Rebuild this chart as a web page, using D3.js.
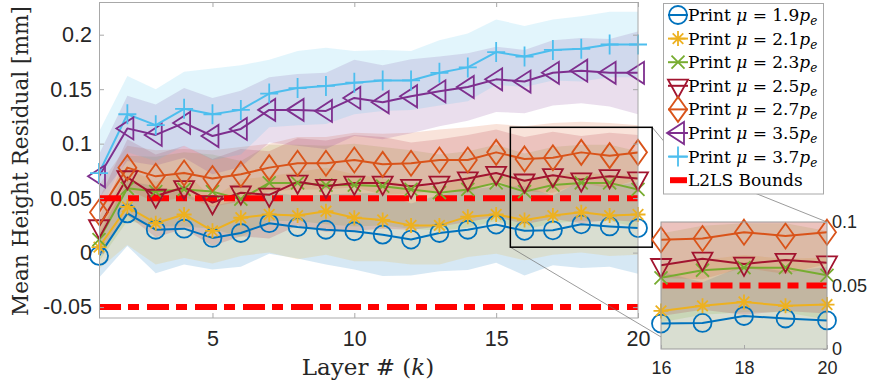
<!DOCTYPE html>
<html>
<head>
<meta charset="utf-8">
<script src="https://cdn.jsdelivr.net/npm/d3@7"></script>
<style>
  body { margin: 0; background: #fff; }
  svg { display: block; }
</style>
</head>
<body>
<script>
// ---- data -------------------------------------------------------------
const layers = [1, 2, 3, 4, 5, 6, 7, 8, 9, 10, 11, 12, 13, 14, 15, 16, 17, 18, 19, 20];

// mean height residual per layer [mm]
const mu19 = [-0.003, 0.036, 0.021, 0.022, 0.0135, 0.018, 0.027, 0.0235, 0.021, 0.0196, 0.0165, 0.012, 0.018, 0.021, 0.0257, 0.020, 0.0205, 0.026, 0.024, 0.0225];
const mu21 = [0.005, 0.042, 0.027, 0.035, 0.020, 0.032, 0.035, 0.034, 0.038, 0.032, 0.030, 0.025, 0.025, 0.033, 0.035, 0.030, 0.034, 0.037, 0.034, 0.035];
const mu23 = [0.012, 0.059, 0.056, 0.058, 0.056, 0.049, 0.064, 0.064, 0.062, 0.062, 0.061, 0.058, 0.055, 0.058, 0.064, 0.056, 0.062, 0.064, 0.064, 0.058];
const mu25 = [0.024, 0.069, 0.052, 0.060, 0.046, 0.055, 0.053, 0.065, 0.061, 0.064, 0.064, 0.061, 0.064, 0.068, 0.073, 0.066, 0.071, 0.067, 0.070, 0.068];
const mu27 = [0.037, 0.078, 0.070, 0.073, 0.068, 0.072, 0.078, 0.082, 0.082, 0.085, 0.081, 0.082, 0.085, 0.085, 0.092, 0.086, 0.087, 0.092, 0.089, 0.092];
const mu35 = [0.070, 0.114, 0.108, 0.119, 0.107, 0.1135, 0.131, 0.131, 0.130, 0.142, 0.138, 0.1435, 0.148, 0.152, 0.159, 0.157, 0.165, 0.167, 0.165, 0.165];
const mu37 = [0.073, 0.127, 0.117, 0.132, 0.127, 0.131, 0.146, 0.151, 0.153, 0.156, 0.158, 0.158, 0.165, 0.170, 0.184, 0.180, 0.186, 0.187, 0.191, 0.191];

// standard deviation per layer [mm]
const sd19 = [0.020, 0.030, 0.040, 0.033, 0.029, 0.031, 0.028, 0.029, 0.032, 0.035, 0.038, 0.033, 0.035, 0.037, 0.035, 0.041, 0.032, 0.040, 0.037, 0.042];
const sd21 = [0.020, 0.035, 0.038, 0.040, 0.030, 0.035, 0.035, 0.040, 0.040, 0.040, 0.038, 0.036, 0.036, 0.037, 0.036, 0.037, 0.036, 0.037, 0.037, 0.037];
const sd23 = [0.020, 0.030, 0.032, 0.034, 0.034, 0.035, 0.035, 0.035, 0.036, 0.038, 0.036, 0.036, 0.035, 0.035, 0.035, 0.035, 0.035, 0.035, 0.035, 0.035];
const sd25 = [0.025, 0.035, 0.038, 0.038, 0.040, 0.040, 0.040, 0.040, 0.042, 0.044, 0.042, 0.040, 0.040, 0.040, 0.040, 0.040, 0.040, 0.040, 0.040, 0.040];
const sd27 = [0.025, 0.020, 0.024, 0.022, 0.026, 0.025, 0.022, 0.024, 0.024, 0.025, 0.028, 0.028, 0.028, 0.030, 0.026, 0.030, 0.032, 0.028, 0.030, 0.025];
const sd35 = [0.020, 0.030, 0.028, 0.032, 0.035, 0.035, 0.030, 0.033, 0.035, 0.035, 0.034, 0.034, 0.032, 0.031, 0.030, 0.029, 0.030, 0.030, 0.031, 0.038];
const sd37 = [0.038, 0.035, 0.033, 0.034, 0.042, 0.041, 0.031, 0.034, 0.035, 0.029, 0.028, 0.027, 0.030, 0.031, 0.030, 0.028, 0.028, 0.030, 0.030, 0.030];

const printLabels = ["1.9", "2.1", "2.3", "2.5", "2.7", "3.5", "3.7"];
const boundValue = 0.05;                         // L2LS bounds: ±0.05 mm
const xTicks = [5, 10, 15, 20];
const yTicks = [-0.05, 0, 0.05, 0.1, 0.15, 0.2];
const yTickLabels = ["-0.05", "0", "0.05", "0.1", "0.15", "0.2"];
const insetXTicks = [16, 18, 20];
const insetYTicks = [0, 0.05, 0.1];
const insetYTickLabels = ["0", "0.05", "0.1"];
const zoomX = [15.5, 20.5];                      // region magnified in the inset
const zoomY = [0.005, 0.115];

// ---- series table --------------------------------------------------------
const colors  = ["#0072BD", "#EDB120", "#77AC30", "#A2142F", "#D95319", "#7E2F8E", "#4DBEEE"];
const markers = ["circle", "asterisk", "cross", "triDown", "diamond", "triLeft", "plus"];
const means = [mu19, mu21, mu23, mu25, mu27, mu35, mu37];
const sds   = [sd19, sd21, sd23, sd25, sd27, sd35, sd37];
const series = printLabels.map((lab, i) => ({
  label: lab, color: colors[i], marker: markers[i],
  pts: layers.map((k, j) => ({ k, m: means[i][j], s: sds[i][j] }))
}));

// ---- marker shapes (centred on the data point) -------------------------
function markerPath(type) {
  switch (type) {
    case "circle":   return "M-9,0A9,9 0 1,0 9,0A9,9 0 1,0 -9,0Z";
    case "asterisk": return "M-7.5,0H7.5M0,-7.5V7.5M-5.3,-5.3L5.3,5.3M-5.3,5.3L5.3,-5.3";
    case "cross":    return "M-6.5,-6.5L6.5,6.5M-6.5,6.5L6.5,-6.5";
    case "triDown":  return "M-10,-6.2L10,-6.2L0,12Z";
    case "diamond":  return "M0,-12.5L9,0L0,12.5L-9,0Z";
    case "triLeft":  return "M-11,0L6,-11L6,11Z";
    case "plus":     return "M-9,0H9M0,-10V10";
  }
}

// ---- canvas ---------------------------------------------------------------
const W = 869, H = 387;
const svg = d3.select("body").append("svg").attr("width", W).attr("height", H)
  .style("font-family", "'Liberation Sans', Arial, sans-serif");
const defs = svg.append("defs");

const tickFont = "'Liberation Sans', Arial, Helvetica, sans-serif";
const texFont = "'DejaVu Serif', 'Liberation Serif', serif";
const axisGray = "#a8a8a8";
const labelColor = "#262626";

// main axes
const x = d3.scaleLinear().domain([1, 20]).range([99, 638]);
const y = d3.scaleLinear().domain([-0.06, 0.23]).range([318, 2]);

defs.append("clipPath").attr("id", "clipMain").append("rect")
  .attr("x", x.range()[0]).attr("y", y.range()[1])
  .attr("width", x.range()[1] - x.range()[0]).attr("height", y.range()[0] - y.range()[1]);

function drawPanel(g, xs, ys, clipId) {
  const [k0, k1] = xs.domain(), [v0, v1] = ys.domain();
  const band = d3.area().x(d => xs(d.k)).y0(d => ys(d.m - d.s)).y1(d => ys(d.m + d.s));
  const line = d3.line().x(d => xs(d.k)).y(d => ys(d.m));
  const clipped = g.append("g").attr("clip-path", `url(#${clipId})`);
  // shaded ±1 std bands
  series.forEach(s => {
    clipped.append("path").datum(s.pts).attr("d", band)
      .attr("fill", s.color).attr("fill-opacity", 0.16).attr("stroke", "none");
  });
  // mean lines
  series.forEach(s => {
    clipped.append("path").datum(s.pts).attr("d", line)
      .attr("fill", "none").attr("stroke", s.color).attr("stroke-width", 2)
      .attr("stroke-linejoin", "round");
  });
  // markers: only points inside the limits, drawn without clipping
  series.forEach(s => {
    g.append("g").selectAll("path")
      .data(s.pts.filter(d => d.k >= k0 && d.k <= k1 && d.m >= v0 && d.m <= v1))
      .join("path")
      .attr("transform", d => `translate(${xs(d.k)},${ys(d.m)})`)
      .attr("d", markerPath(s.marker))
      .attr("fill", "none").attr("stroke", s.color).attr("stroke-width", 1.8)
      .attr("stroke-linejoin", "miter");
  });
  // L2LS bounds
  [boundValue, -boundValue].forEach(b => {
    if (b < v0 || b > v1) return;
    clipped.append("line")
      .attr("x1", xs(layers[0])).attr("x2", xs(layers[layers.length - 1]))
      .attr("y1", ys(b)).attr("y2", ys(b))
      .attr("stroke", "#FF0000").attr("stroke-width", 6)
      .attr("stroke-dasharray", "22,7,11,8");
  });
}

// ---- main panel -------------------------------------------------------
const main = svg.append("g");
main.append("rect").attr("x", 99).attr("y", 2).attr("width", 539).attr("height", 316).attr("fill", "#fff");
drawPanel(main, x, y, "clipMain");

function styleAxis(g) {
  g.select(".domain").remove();
  g.selectAll(".tick line").attr("stroke", axisGray);
  g.selectAll(".tick text").attr("fill", labelColor).style("font-family", tickFont);
}
main.append("g").attr("transform", `translate(0,${y.range()[0]})`)
  .call(d3.axisBottom(x).tickValues(xTicks).tickSize(-5).tickPadding(13).tickFormat(d3.format("d")))
  .call(styleAxis).selectAll("text").style("font-size", "21.5px");
main.append("g").attr("transform", `translate(0,${y.range()[1]})`)
  .call(d3.axisTop(x).tickValues(xTicks).tickSize(-5).tickFormat(""))
  .call(styleAxis);
main.append("g").attr("transform", `translate(${x.range()[0]},0)`)
  .call(d3.axisLeft(y).tickValues(yTicks).tickSize(-5).tickPadding(7).tickFormat((d, i) => yTickLabels[i]))
  .call(styleAxis).selectAll("text").style("font-size", "21.5px");
main.append("g").attr("transform", `translate(${x.range()[1]},0)`)
  .call(d3.axisRight(y).tickValues(yTicks).tickSize(-5).tickFormat(""))
  .call(styleAxis);
main.append("rect").attr("x", 99.5).attr("y", 2.5).attr("width", 538.5).attr("height", 315.5)
  .attr("fill", "none").attr("stroke", axisGray).attr("stroke-width", 1);

// axis titles
svg.append("text").attr("transform", "translate(28,161) rotate(-90)")
  .attr("text-anchor", "middle").style("font-family", texFont).style("font-size", "22px")
  .attr("textLength", 310).attr("lengthAdjust", "spacingAndGlyphs")
  .attr("fill", labelColor).text("Mean Height Residual [mm]");
const xt = svg.append("text").attr("x", 368).attr("y", 375).attr("text-anchor", "middle")
  .style("font-family", texFont).style("font-size", "23px").attr("fill", labelColor);
xt.append("tspan").text("Layer # (");
xt.append("tspan").style("font-style", "italic").text("k");
xt.append("tspan").text(")");

// ---- zoom rectangle and connectors --------------------------------------
const ix = d3.scaleLinear().domain([16, 20]).range([661, 827]);
const iy = d3.scaleLinear().domain([0, 0.1]).range([349, 222]);

const rx0 = x(zoomX[0]), rx1 = x(zoomX[1]), ry0 = y(zoomY[1]), ry1 = y(zoomY[0]);
svg.append("path")
  .attr("d", `M${rx1},${ry0}L${rx1 + 31},${ry0 + 37}L${ix(20)},${iy(0.1)}`)
  .attr("fill", "none").attr("stroke", "#707070").attr("stroke-width", 0.7);
svg.append("line").attr("x1", rx0).attr("y1", ry1).attr("x2", ix(16)).attr("y2", iy(0.0095))
  .attr("stroke", "#707070").attr("stroke-width", 0.7);
svg.append("rect").attr("x", rx0).attr("y", ry0).attr("width", rx1 - rx0).attr("height", ry1 - ry0)
  .attr("fill", "none").attr("stroke", "#000").attr("stroke-width", 1.5);

// ---- inset ----------------------------------------------------------------
defs.append("clipPath").attr("id", "clipInset").append("rect")
  .attr("x", ix.range()[0]).attr("y", iy.range()[1])
  .attr("width", ix.range()[1] - ix.range()[0]).attr("height", iy.range()[0] - iy.range()[1]);
const inset = svg.append("g");
inset.append("rect").attr("x", 661).attr("y", 222).attr("width", 166).attr("height", 127).attr("fill", "#fff");
drawPanel(inset, ix, iy, "clipInset");
inset.append("rect").attr("x", 661).attr("y", 222).attr("width", 166).attr("height", 127)
  .attr("fill", "none").attr("stroke", "#9a9a9a").attr("stroke-width", 1);
inset.append("g").attr("transform", `translate(0,${iy.range()[0]})`)
  .call(d3.axisBottom(ix).tickValues(insetXTicks).tickSize(-4).tickPadding(12).tickFormat(d3.format("d")))
  .call(styleAxis).selectAll("text").style("font-size", "18px");
inset.append("g").attr("transform", `translate(${ix.range()[1]},0)`)
  .call(d3.axisRight(iy).tickValues(insetYTicks).tickSize(-4).tickPadding(5).tickFormat((d, i) => insetYTickLabels[i]))
  .call(styleAxis).selectAll("text").style("font-size", "18px");

// ---- legend ---------------------------------------------------------------
const leg = svg.append("g");
leg.append("rect").attr("x", 663.5).attr("y", 3.5).attr("width", 160).attr("height", 190.5)
  .attr("fill", "#fff").attr("stroke", "#a8a8a8").attr("stroke-width", 1);
const rowY = i => 15 + i * 23.6;
series.forEach((s, i) => {
  const g = leg.append("g").attr("transform", `translate(678,${rowY(i)})`);
  g.append("line").attr("x1", -10).attr("x2", 10).attr("stroke", s.color).attr("stroke-width", 2);
  g.append("path").attr("d", markerPath(s.marker)).attr("fill", "none")
    .attr("stroke", s.color).attr("stroke-width", 1.8);
  const t = leg.append("text").attr("x", 688).attr("y", rowY(i) + 6)
    .style("font-family", texFont).style("font-size", "17px").attr("fill", "#000");
  t.append("tspan").text("Print ");
  t.append("tspan").style("font-style", "italic").text("μ");
  t.append("tspan").text(" = " + s.label);
  t.append("tspan").style("font-style", "italic").text("p");
  t.append("tspan").style("font-style", "italic").style("font-size", "12px").attr("dy", 4).text("e");
});
leg.append("rect").attr("x", 670).attr("y", rowY(7) - 3).attr("width", 17).attr("height", 6).attr("fill", "#FF0000");
leg.append("text").attr("x", 688).attr("y", rowY(7) + 6)
  .style("font-family", texFont).style("font-size", "17px").attr("fill", "#000").text("L2LS Bounds");
</script>
</body>
</html>
